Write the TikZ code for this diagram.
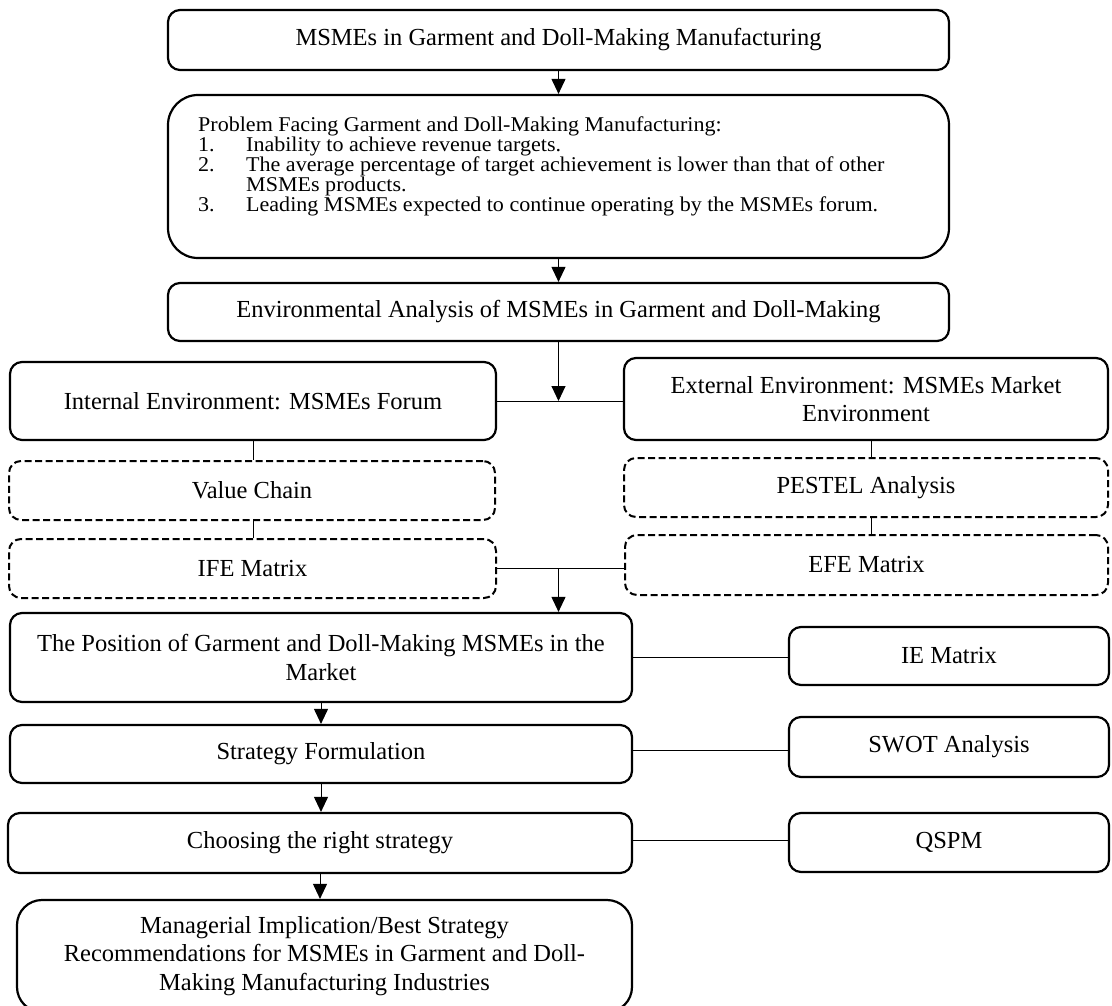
\documentclass[tikz,border=0pt]{standalone}
\usepackage{fontspec}
\setmainfont{Liberation Serif}
\newfontfamily\probfam[FakeStretch=1.05]{Liberation Serif}
\usetikzlibrary{arrows.meta,positioning,shapes,calc}
\newcommand\probfont{\probfam\fontsize{21}{20}\selectfont\lineskiplimit=-100pt\relax}

\begin{document}
\begin{tikzpicture}[x=1pt,y=-1pt,
  box node/.style={rectangle,draw,rounded corners=12pt,line width=2.2pt,align=center,inner sep=0pt},
  dash node/.style={box node,line width=2pt,dash pattern=on 7pt off 3.5pt},
  flow/.style={line width=1pt,-{Triangle[length=15pt,width=14pt]}},
  link/.style={line width=1pt}]
\clip (0,0) rectangle (1112,1006);
\begin{scope}[every node/.style={font=\fontsize{24.5}{28.5}\selectfont}]
\node[box node,minimum width=781pt,minimum height=60pt] (top) at (558.5,40) {MSMEs in Garment and Doll-Making Manufacturing};
\node[box node,rounded corners=30pt,minimum width=781pt,minimum height=163pt] (prob) at (558.5,176.5) {};
\node[box node,minimum width=781pt,minimum height=58pt] (env) at (558.5,312) {Environmental Analysis of MSMEs in Garment and Doll-Making};
\node[box node,minimum width=486pt,minimum height=78pt] (int) at (253,401) {Internal Environment: MSMEs Forum};
\node[box node,minimum width=484pt,minimum height=82pt] (ext) at (866,399) {External Environment: MSMEs Market\\Environment};
\node[dash node,minimum width=486pt,minimum height=59pt] (val) at (252,490.5) {Value Chain};
\node[dash node,minimum width=487pt,minimum height=59pt] (ife) at (252.5,568.5) {IFE Matrix};
\node[dash node,minimum width=484pt,minimum height=59pt] (pest) at (866,487.5) {PESTEL Analysis};
\node[dash node,minimum width=483pt,minimum height=60pt] (efe) at (866.5,565) {EFE Matrix};
\node[box node,minimum width=622pt,minimum height=89pt] (pos) at (321,657.5) {The Position of Garment and Doll-Making MSMEs in the\\Market};
\node[box node,minimum width=320pt,minimum height=58pt] (ie) at (949,656) {IE Matrix};
\node[box node,minimum width=622pt,minimum height=58pt] (strat) at (321,754) {Strategy Formulation};
\node[box node,minimum width=320pt,minimum height=60pt] (swot) at (949,747) {SWOT Analysis};
\node[box node,minimum width=624pt,minimum height=60pt] (choose) at (320,843) {Choosing the right strategy};
\node[box node,minimum width=320pt,minimum height=59pt] (qspm) at (949,842.5) {QSPM};
\node[box node,rounded corners=25pt,minimum width=615pt,minimum height=112pt] (mgr) at (324.5,956) {Managerial Implication/Best Strategy\\Recommendations for MSMEs in Garment and Doll-\\Making Manufacturing Industries};
\end{scope}
% problem list
\node[anchor=west,align=left,inner sep=0pt,font=\probfont] (probtext) at (198,166) {Problem Facing Garment and Doll-Making Manufacturing:\\
\makebox[48pt][l]{1.}Inability to achieve revenue targets.\\
\makebox[48pt][l]{2.}The average percentage of target achievement is lower than that of other\\
\hspace*{48pt}MSMEs products.\\
\makebox[48pt][l]{3.}Leading MSMEs expected to continue operating by the MSMEs forum.};
\begin{scope}
\draw[flow] (top) -- (prob);
\draw[flow] (prob) -- (env);
\draw[link] (int.east) -- (ext.west |- int.east);
\draw[flow] (env.south) -- (env.south |- int.east);
\draw[link] (int.south) -- (int.south |- val.north);
\draw[link] (int.south |- val.south) -- (int.south |- ife.north);
\draw[link] ([xshift=5pt]ext.south) -- ([xshift=5pt]pest.north);
\draw[link] ([xshift=5pt]pest.south) -- ([xshift=5pt]pest.south |- efe.north);
\draw[link] (ife.east) -- (efe.west |- ife.east);
\coordinate (j2) at (env.south |- ife.east);
\draw[flow] (j2) -- (j2 |- pos.north);
\draw[link] (pos.east) -- (ie.west |- pos.east);
\draw[flow] (pos) -- (strat);
\draw[link] ([yshift=4pt]strat.east) -- ([yshift=4pt]strat.east -| swot.west);
\draw[flow] (strat.south) -- (strat.south |- choose.north);
\draw[link] ([yshift=3pt]choose.east) -- ([yshift=3pt]choose.east -| qspm.west);
\draw[flow] (choose.south) -- (choose.south |- mgr.north);
\end{scope}
\end{tikzpicture}
\end{document}
